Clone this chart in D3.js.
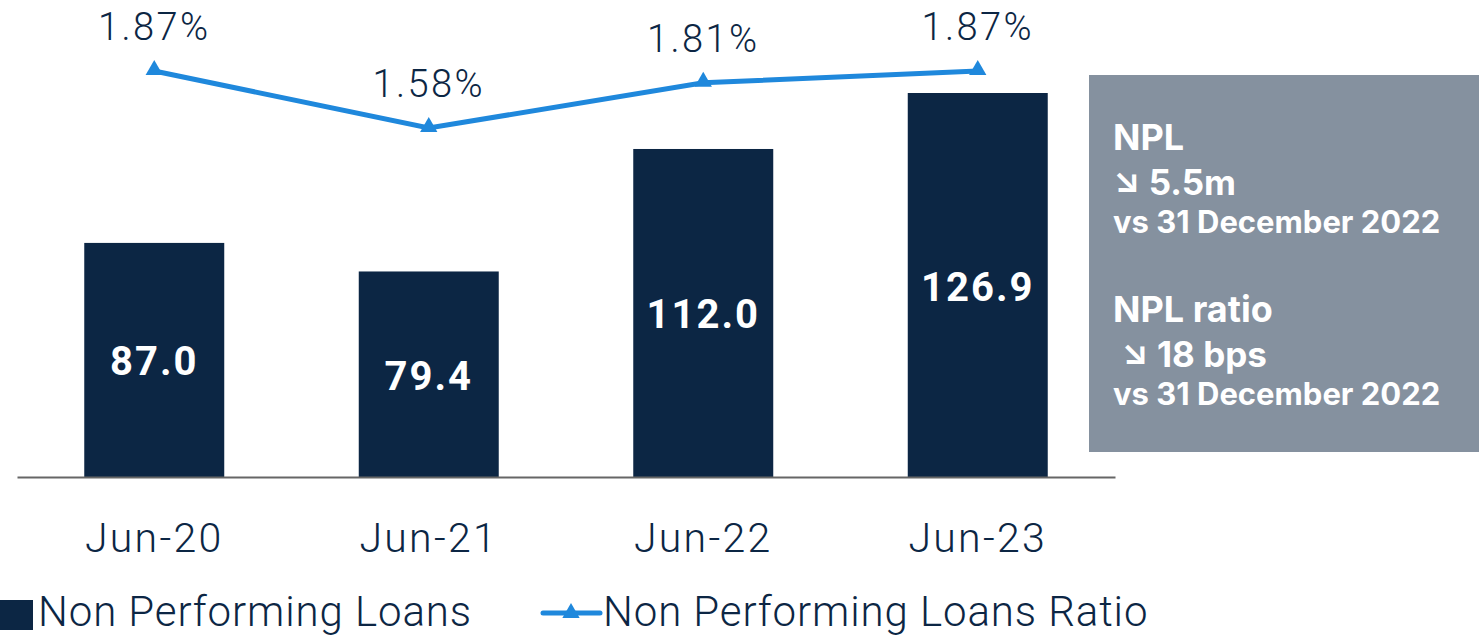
<!DOCTYPE html>
<html>
<head>
<meta charset="utf-8">
<script src="https://cdn.jsdelivr.net/npm/d3@7"></script>
<style>
  body { margin: 0; background: #fff; }
  svg { display: block; }
</style>
</head>
<body>
<svg id="chart" width="1479" height="635"></svg>
<script>
// data
const periods = ['Jun-20', 'Jun-21', 'Jun-22', 'Jun-23'];
const nplValues = [87.0, 79.4, 112.0, 126.9];
const nplRatio = [1.87, 1.58, 1.81, 1.87];
const boxLines = [
  { text: 'NPL', size: 36, y: 150 },
  { text: '\u2198 5.5m', size: 35, y: 195 },
  { text: 'vs 31 December 2022', size: 31, y: 233 },
  { text: 'NPL ratio', size: 36, y: 322 },
  { text: ' \u2198 18 bps', size: 35, y: 367 },
  { text: 'vs 31 December 2022', size: 31, y: 405 }
];

const navy = '#0c2644';
const blue = '#1f88dc';

const svg = d3.select('#chart');

// x: band scale
const x = d3.scaleBand()
  .domain(periods)
  .range([17, 1115])
  .paddingInner(0.49)
  .paddingOuter(0.245);

// y for bars (axis does not start at zero)
const y = d3.scaleLinear().domain([24.7, 126.9]).range([477, 93]);

// y for the ratio line
const yr = d3.scaleLinear().domain([1.58, 1.87]).range([128, 71]);

// bars
svg.append('g')
  .selectAll('rect')
  .data(nplValues)
  .join('rect')
  .attr('x', (d, i) => x(periods[i]))
  .attr('y', d => y(d))
  .attr('width', x.bandwidth())
  .attr('height', d => y.range()[0] - y(d))
  .attr('fill', navy);

// bar labels
svg.append('g')
  .selectAll('text')
  .data(nplValues)
  .join('text')
  .attr('x', (d, i) => x(periods[i]) + x.bandwidth() / 2)
  .attr('y', d => (y(d) + y.range()[0]) / 2 + 2)
  .attr('text-anchor', 'middle')
  .attr('dominant-baseline', 'central')
  .attr('fill', '#fff')
  .style('font-family', 'Roboto, sans-serif')
  .style('font-weight', 700)
  .style('font-size', '40px')
  .style('letter-spacing', '2px')
  .text(d => d.toFixed(1));

// x axis
const xAxis = svg.append('g')
  .attr('transform', `translate(0,${y.range()[0]})`)
  .call(d3.axisBottom(x).tickSize(0).tickPadding(46));
xAxis.select('.domain').attr('stroke', '#666').attr('stroke-width', 2);
xAxis.selectAll('text')
  .attr('fill', navy)
  .style('font-family', 'Roboto, sans-serif')
  .style('font-weight', 300)
  .style('font-size', '41px')
  .style('letter-spacing', '2.3px');

// ratio line
const cx = i => x(periods[i]) + x.bandwidth() / 2;
const line = d3.line()
  .x((d, i) => cx(i))
  .y(d => yr(d));

svg.append('path')
  .datum(nplRatio)
  .attr('d', line)
  .attr('fill', 'none')
  .attr('stroke', blue)
  .attr('stroke-width', 5);

const tri = d3.symbol().type(d3.symbolTriangle).size(130);
svg.append('g')
  .selectAll('path')
  .data(nplRatio)
  .join('path')
  .attr('d', tri)
  .attr('transform', (d, i) => `translate(${cx(i)},${yr(d) - 1})`)
  .attr('fill', blue);

svg.append('g')
  .selectAll('text')
  .data(nplRatio)
  .join('text')
  .attr('x', (d, i) => cx(i))
  .attr('y', d => yr(d) - 31)
  .attr('text-anchor', 'middle')
  .attr('fill', navy)
  .style('font-family', 'Roboto, sans-serif')
  .style('font-weight', 300)
  .style('font-size', '38px')
  .style('letter-spacing', '2.4px')
  .text(d => d.toFixed(2) + '%');

// side box
svg.append('rect')
  .attr('x', 1089).attr('y', 75)
  .attr('width', 390).attr('height', 377)
  .attr('fill', '#85919f');

svg.append('g')
  .selectAll('text')
  .data(boxLines)
  .join('text')
  .attr('x', 1113)
  .attr('y', d => d.y)
  .attr('fill', '#fff')
  .style('font-family', 'Inter, sans-serif')
  .style('font-weight', 700)
  .style('font-size', d => d.size + 'px')
  .style('white-space', 'pre')
  .text(d => d.text);

// legend
const legend = svg.append('g').attr('transform', 'translate(0,613)');
legend.append('rect')
  .attr('x', 0).attr('y', -13).attr('width', 33).attr('height', 30)
  .attr('fill', navy);
legend.append('text')
  .attr('x', 38).attr('y', 13)
  .attr('fill', navy)
  .style('font-family', 'Roboto, sans-serif')
  .style('font-weight', 300)
  .style('font-size', '42px')
  .style('letter-spacing', '0.9px')
  .text('Non Performing Loans');
legend.append('line')
  .attr('x1', 543).attr('x2', 600)
  .attr('y1', 0).attr('y2', 0)
  .attr('stroke', blue).attr('stroke-width', 5)
  .attr('stroke-linecap', 'round');
legend.append('path')
  .attr('d', tri)
  .attr('transform', 'translate(571,0)')
  .attr('fill', blue);
legend.append('text')
  .attr('x', 603).attr('y', 13)
  .attr('fill', navy)
  .style('font-family', 'Roboto, sans-serif')
  .style('font-weight', 300)
  .style('font-size', '42px')
  .style('letter-spacing', '0.9px')
  .text('Non Performing Loans Ratio');
</script>
</body>
</html>
